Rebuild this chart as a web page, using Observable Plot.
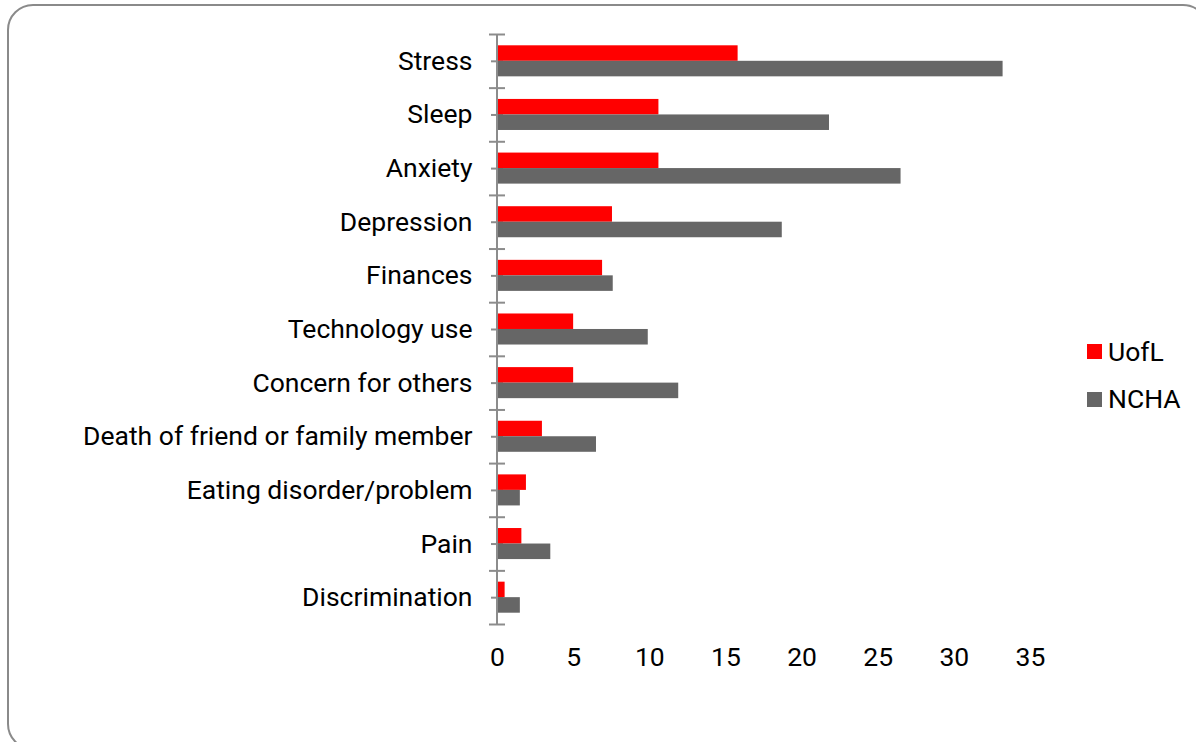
<!DOCTYPE html>
<html><head><meta charset="utf-8">
<script src="https://cdn.jsdelivr.net/npm/d3@7"></script>
<script src="https://cdn.jsdelivr.net/npm/@observablehq/plot@0.6"></script>
<style>
body{margin:0;background:#fff;overflow:hidden;font-family:Roboto,sans-serif}
#wrap{position:relative;width:1196px;height:742px}
#frame{position:absolute;left:7px;top:4px;width:1202px;height:746px;border:2px solid #8a8a8a;border-radius:26px;box-sizing:border-box;pointer-events:none}
#legend{position:absolute;left:1087px;top:335.5px;font-size:26.5px;color:#000;line-height:32px}
#legend .it{display:flex;align-items:center;height:32px;margin-bottom:15.5px}
#legend .sw{width:15px;height:15px;margin-right:6px}
</style></head>
<body>
<div id="wrap"><div id="frame"></div><div id="legend"></div></div>
<script>
const categories = ["Stress","Sleep","Anxiety","Depression","Finances","Technology use","Concern for others","Death of friend or family member","Eating disorder/problem","Pain","Discrimination"];
const uoflValues = [15.8,10.6,10.6,7.55,6.9,5.0,5.0,2.95,1.9,1.6,0.5];
const nchaValues = [33.2,21.8,26.5,18.7,7.6,9.9,11.9,6.5,1.5,3.5,1.5];
const seriesNames = ["UofL","NCHA"];
const seriesColors = ["#ff0000","#666666"];
const xTicks = [0,5,10,15,20,25,30,35];

const rows = categories.map((c,i)=>({category:c, uofl:uoflValues[i], ncha:nchaValues[i]}));

const W=1196,H=742, mL=497, mR=166, mT=34, mB=118;
const bw = (H-mT-mB)/categories.length;
const pxPerUnit = (W-mL-mR)/35;
const u = px => px/pxPerUnit;
const axisColor = "#8c8c8c";
const fs = 26.5;

const chart = Plot.plot({
  width:W, height:H,
  marginLeft:mL, marginRight:mR, marginTop:mT, marginBottom:mB,
  style:{fontFamily:"Roboto, sans-serif", fontSize:fs+"px", color:"#000", background:"transparent"},
  x:{domain:[0,35], ticks:xTicks},
  y:{domain:categories, padding:0, type:"band", round:false},
  marks:[
    Plot.axisX({ticks:xTicks, tickSize:0, tickPadding:23, fontSize:fs, label:null, tickFormat:d=>String(d)}),
    Plot.axisY({tickSize:0, tickPadding:25, fontSize:fs, label:null}),
    Plot.ruleY(categories, {y:d=>d, x1:u(-8), x2:u(8), dy:-bw/2, stroke:axisColor, strokeWidth:2}),
    Plot.ruleY([categories[categories.length-1]], {y:d=>d, x1:u(-8), x2:u(8), dy:bw/2, stroke:axisColor, strokeWidth:2}),
    Plot.ruleY(categories, {y:d=>d, x1:u(-6), x2:u(6), stroke:axisColor, strokeWidth:2}),
    Plot.barX(rows, {y:"category", x:"uofl", fill:seriesColors[0], insetTop:11.3, insetBottom:bw-26.8}),
    Plot.barX(rows, {y:"category", x:"ncha", fill:seriesColors[1], insetTop:26.8, insetBottom:11.3})
  ]
});
document.getElementById("wrap").prepend(chart);
chart.style.position="absolute"; chart.style.left="0"; chart.style.top="0";

const svg = d3.select(chart);
svg.append("line").attr("x1",mL).attr("x2",mL).attr("y1",mT).attr("y2",H-mB)
  .attr("stroke",axisColor).attr("stroke-width",2);

const leg = document.getElementById("legend");
seriesNames.forEach((n,i)=>{
  const it=document.createElement("div"); it.className="it";
  const sw=document.createElement("span"); sw.className="sw"; sw.style.background=seriesColors[i];
  const t=document.createElement("span"); t.textContent=n;
  it.append(sw,t); leg.append(it);
});
</script>
</body></html>
